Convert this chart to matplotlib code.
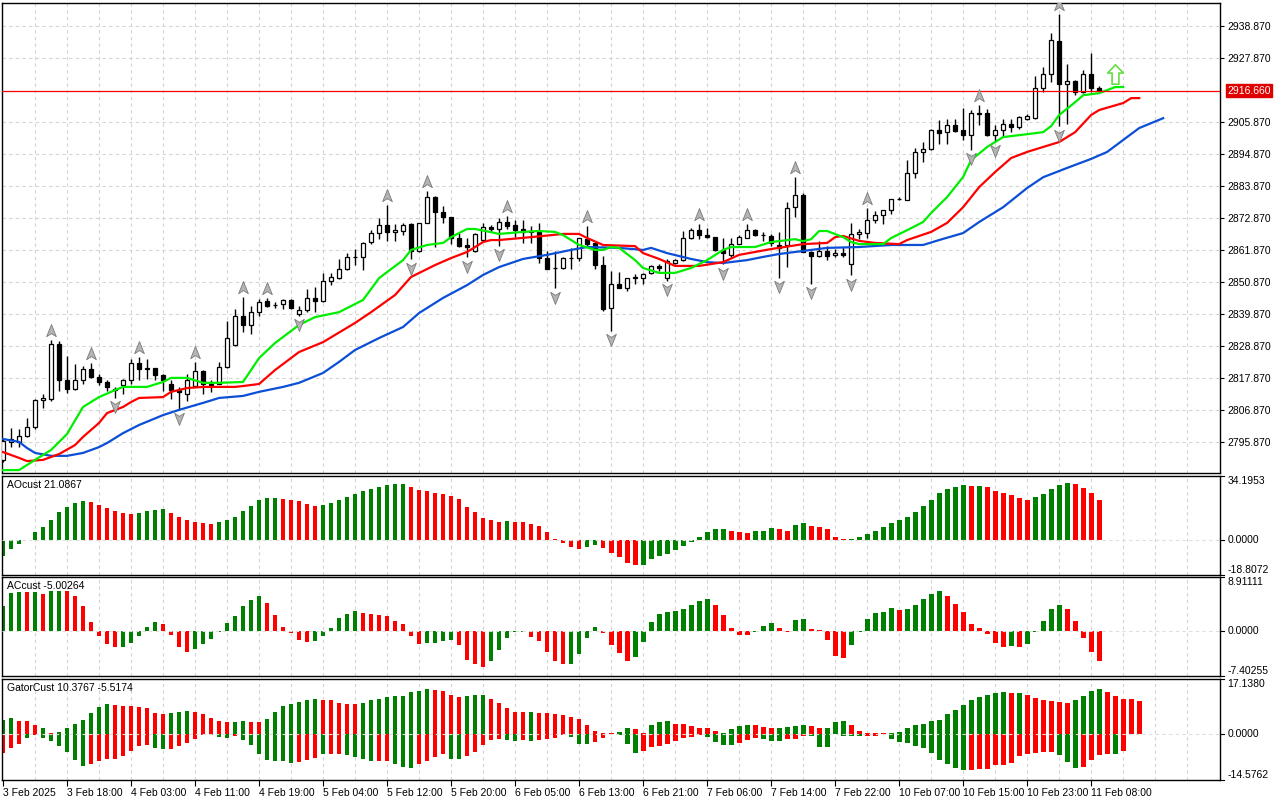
import numpy as np
import matplotlib
matplotlib.use("Agg")
import matplotlib.pyplot as plt
from matplotlib.path import Path
from matplotlib.transforms import offset_copy, blended_transform_factory

# ---- H1 candles (3 Feb 10:00 .. 11 Feb 09:00) ----
opens = [2789.6, 2796.0, 2795.9, 2797.9, 2801.0, 2810.2, 2810.8, 2829.7, 2817.3, 2814.2,
         2817.3, 2821.1, 2818.2, 2816.5, 2814.2, 2815.4, 2817.3, 2823.1, 2821.4, 2821.4,
         2819.0, 2815.7, 2813.6, 2812.5, 2815.0, 2820.3, 2815.9, 2815.9, 2821.6, 2829.1,
         2839.2, 2836.1, 2840.7, 2844.3, 2843.0, 2843.2, 2844.6, 2839.8, 2841.3, 2845.3,
         2844.5, 2851.2, 2852.4, 2855.3, 2859.3, 2859.3, 2864.5, 2867.6, 2870.5, 2868.0,
         2868.5, 2870.8, 2861.6, 2871.0, 2880.2, 2875.0, 2873.1, 2865.9, 2863.5, 2861.6,
         2865.3, 2869.7, 2869.2, 2871.6, 2870.5, 2869.0, 2868.0, 2868.2, 2859.0, 2855.8,
         2855.8, 2859.0, 2859.0, 2865.5, 2864.4, 2856.7, 2841.8, 2850.3, 2848.7, 2852.4,
         2852.4, 2854.1, 2856.4, 2852.2, 2857.5, 2858.4, 2865.9, 2868.6, 2867.0, 2866.3,
         2861.8, 2860.2, 2864.0, 2866.1, 2868.6, 2867.2, 2866.7, 2863.6, 2863.5, 2876.6,
         2880.7, 2861.2, 2859.7, 2861.5, 2860.0, 2860.8, 2856.9, 2867.5, 2867.8, 2872.1,
         2873.8, 2875.7, 2879.3, 2879.2, 2888.5, 2895.6, 2896.7, 2903.2, 2902.4, 2904.7,
         2903.0, 2901.3, 2909.1, 2909.1, 2901.3, 2903.2, 2905.1, 2904.2, 2906.9, 2907.4,
         2917.7, 2922.5, 2933.9, 2919.0, 2919.9, 2916.2, 2922.5, 2917.7]
highs = [2797.0, 2800.8, 2800.2, 2804.2, 2810.8, 2812.5, 2831.0, 2830.5, 2825.3, 2822.6,
         2821.9, 2823.1, 2819.4, 2817.1, 2814.8, 2817.6, 2824.5, 2825.0, 2824.5, 2821.4,
         2819.4, 2817.1, 2814.6, 2819.4, 2823.4, 2820.5, 2817.1, 2823.4, 2837.3, 2841.7,
         2845.6, 2842.6, 2844.9, 2845.3, 2843.9, 2844.9, 2845.1, 2842.6, 2848.5, 2849.0,
         2853.9, 2853.9, 2858.7, 2860.9, 2862.1, 2864.7, 2868.7, 2872.8, 2877.3, 2870.8,
         2871.0, 2871.0, 2871.0, 2882.3, 2880.5, 2877.0, 2873.3, 2867.6, 2865.9, 2867.6,
         2871.0, 2870.5, 2872.8, 2873.6, 2872.1, 2872.1, 2870.1, 2871.0, 2861.5, 2861.5,
         2859.5, 2862.7, 2866.1, 2870.1, 2864.7, 2859.8, 2854.7, 2854.4, 2852.4, 2853.5,
         2854.1, 2856.7, 2857.0, 2858.7, 2858.9, 2868.4, 2869.5, 2870.7, 2869.5, 2866.5,
         2866.1, 2866.1, 2867.0, 2870.7, 2869.0, 2868.2, 2867.3, 2868.0, 2878.4, 2886.9,
         2881.5, 2861.5, 2864.9, 2863.1, 2862.3, 2862.9, 2871.2, 2869.2, 2876.4, 2875.2,
         2875.5, 2879.5, 2880.1, 2892.7, 2896.9, 2899.0, 2903.6, 2906.4, 2907.0, 2907.0,
         2910.8, 2909.9, 2911.8, 2910.5, 2904.7, 2907.0, 2907.0, 2907.8, 2908.7, 2921.6,
         2924.8, 2936.5, 2943.1, 2925.9, 2920.4, 2923.6, 2929.6, 2918.1]
lows = [2789.0, 2794.2, 2794.2, 2797.6, 2800.2, 2807.6, 2809.9, 2813.4, 2812.7, 2813.6,
        2815.9, 2817.9, 2815.6, 2813.4, 2811.1, 2812.5, 2815.7, 2817.1, 2817.6, 2817.1,
        2813.4, 2810.8, 2807.0, 2810.0, 2814.8, 2812.5, 2813.0, 2815.7, 2821.4, 2828.8,
        2833.8, 2832.9, 2839.2, 2842.4, 2841.8, 2841.5, 2841.5, 2839.3, 2840.7, 2840.5,
        2844.1, 2849.8, 2851.8, 2855.0, 2856.7, 2855.0, 2863.9, 2865.5, 2865.0, 2865.1,
        2867.0, 2858.7, 2861.3, 2871.0, 2863.0, 2871.0, 2863.9, 2862.8, 2859.3, 2861.3,
        2865.1, 2868.2, 2863.2, 2869.0, 2866.5, 2864.4, 2864.4, 2857.5, 2855.2, 2848.7,
        2855.2, 2855.2, 2858.1, 2863.2, 2855.2, 2840.9, 2834.0, 2848.7, 2847.8, 2850.1,
        2850.1, 2853.5, 2854.7, 2851.2, 2857.0, 2858.1, 2865.5, 2865.5, 2865.9, 2861.5,
        2856.9, 2859.2, 2863.8, 2865.9, 2866.7, 2865.0, 2863.2, 2852.4, 2856.0, 2873.2,
        2861.2, 2850.3, 2859.5, 2858.5, 2859.5, 2859.5, 2853.2, 2865.8, 2866.1, 2871.2,
        2870.9, 2874.4, 2878.9, 2878.9, 2886.8, 2892.1, 2896.4, 2898.2, 2898.2, 2902.4,
        2899.8, 2896.4, 2904.7, 2901.0, 2899.0, 2900.7, 2902.4, 2903.6, 2906.7, 2907.0,
        2916.2, 2919.6, 2904.4, 2905.3, 2915.0, 2915.8, 2916.2, 2916.5]
closes = [2796.1, 2796.8, 2797.9, 2801.1, 2810.4, 2811.1, 2829.7, 2817.1, 2814.2, 2817.3,
          2821.1, 2818.2, 2816.5, 2814.6, 2813.6, 2817.3, 2823.1, 2821.1, 2820.9, 2819.0,
          2817.1, 2813.6, 2812.9, 2817.3, 2820.3, 2815.9, 2815.6, 2821.6, 2831.7, 2839.1,
          2836.1, 2840.4, 2844.1, 2842.6, 2842.8, 2844.6, 2841.8, 2841.3, 2845.3, 2844.5,
          2851.2, 2852.7, 2855.3, 2859.3, 2859.5, 2864.4, 2867.6, 2870.5, 2867.9, 2868.7,
          2870.5, 2861.6, 2871.0, 2880.2, 2875.0, 2873.1, 2865.9, 2863.2, 2862.8, 2867.3,
          2869.8, 2869.1, 2871.5, 2870.1, 2868.7, 2868.2, 2868.4, 2859.2, 2855.2, 2855.6,
          2859.0, 2859.2, 2865.9, 2863.8, 2856.7, 2841.5, 2850.3, 2848.7, 2852.1, 2852.6,
          2853.7, 2856.4, 2855.6, 2858.1, 2858.5, 2865.9, 2868.6, 2867.0, 2866.3, 2861.8,
          2861.0, 2864.0, 2866.3, 2868.6, 2867.0, 2867.0, 2864.4, 2862.7, 2876.4, 2880.7,
          2861.2, 2859.7, 2861.5, 2859.7, 2860.8, 2860.0, 2867.5, 2868.0, 2872.1, 2873.8,
          2875.5, 2879.3, 2879.5, 2888.5, 2895.6, 2896.7, 2903.2, 2902.2, 2904.7, 2902.8,
          2901.3, 2908.9, 2908.7, 2901.3, 2903.2, 2905.1, 2904.2, 2907.6, 2908.1, 2917.7,
          2922.5, 2934.2, 2919.0, 2919.9, 2916.2, 2922.5, 2917.7, 2916.66]

# ---- Alligator lines, read as (bar, price) points ----
lips_bars = [0, 2, 4, 6, 8, 10, 12, 14, 15, 18, 20, 21, 23, 25, 27, 30, 32, 34, 37, 39,
             42, 45, 47, 50, 51, 53, 55, 56, 58, 59, 61, 62, 65, 67, 69, 70, 72, 74, 75, 76,
             77, 79, 80, 82, 84, 86, 88, 90, 91, 94, 96, 99, 100, 101, 102, 103, 105, 106, 107, 110,
             111, 113, 115, 116, 118, 120, 121, 123, 125, 128, 130, 131, 132, 134, 135, 137, 139, 140]
lips_vals = [2786.2, 2786.2, 2789.7, 2793.1, 2798.6, 2807.9, 2811.3, 2813.7, 2814.8, 2814.8,
             2816.5, 2817.9, 2817.9, 2816.2, 2816.2, 2816.5, 2824.7, 2829.9, 2836.1, 2838.8,
             2840.5, 2844.7, 2852.2, 2858.4, 2861.9, 2863.6, 2864.3, 2866.3, 2869.1, 2869.1,
             2868.0, 2867.4, 2868.1, 2868.4, 2868.1, 2867.0, 2863.6, 2861.9, 2861.9, 2862.9,
             2862.6, 2858.4, 2855.7, 2854.0, 2854.0, 2855.7, 2858.4, 2861.9, 2862.9, 2862.9,
             2864.6, 2865.6, 2864.9, 2865.6, 2868.4, 2868.4, 2866.3, 2864.6, 2863.9, 2863.9,
             2866.0, 2868.7, 2871.5, 2874.6, 2880.1, 2887.0, 2892.8, 2897.3, 2900.7, 2901.7,
             2902.4, 2904.5, 2908.3, 2912.7, 2915.1, 2915.8, 2917.9, 2917.9]
teeth_bars = [0, 2, 3, 5, 7, 9, 10, 12, 13, 15, 16, 17, 20, 21, 23, 25, 29, 30, 32, 34,
              37, 40, 44, 46, 49, 51, 54, 56, 58, 60, 61, 62, 66, 70, 72, 73, 75, 79, 80, 82,
              84, 87, 90, 92, 94, 96, 100, 103, 104, 105, 107, 109, 112, 113, 116, 118, 120, 122, 124, 126,
              128, 130, 132, 134, 136, 137, 140, 141, 142]
teeth_vals = [2792.4, 2790.4, 2789.3, 2789.7, 2791.7, 2794.8, 2797.6, 2802.4, 2805.8, 2807.9,
              2809.6, 2811.0, 2811.3, 2813.1, 2814.4, 2814.8, 2814.8, 2815.1, 2815.8, 2820.6,
              2826.8, 2830.2, 2836.8, 2840.5, 2846.4, 2852.6, 2856.7, 2859.1, 2861.2, 2864.6,
              2865.3, 2865.3, 2866.3, 2867.4, 2867.4, 2866.0, 2863.6, 2863.2, 2860.8, 2858.8,
              2856.4, 2856.4, 2857.7, 2860.2, 2861.2, 2862.2, 2863.9, 2864.3, 2866.3, 2866.7,
              2865.0, 2864.3, 2863.9, 2865.3, 2868.1, 2871.2, 2876.6, 2883.5, 2888.7, 2893.5,
              2895.6, 2897.3, 2899.0, 2902.4, 2908.3, 2910.0, 2912.4, 2914.1, 2914.1]
jaw_bars = [0, 2, 3, 4, 6, 8, 10, 12, 13, 15, 17, 20, 22, 25, 27, 30, 32, 35, 37, 40,
            42, 44, 47, 50, 52, 55, 58, 60, 62, 65, 68, 71, 73, 77, 80, 81, 83, 86, 88, 90,
            93, 95, 97, 99, 103, 107, 111, 115, 117, 120, 122, 125, 128, 130, 133, 136, 138, 140, 142, 145]
jaw_vals = [2796.9, 2795.9, 2793.8, 2792.1, 2791.1, 2791.1, 2792.1, 2794.1, 2795.5, 2798.9,
            2801.7, 2805.1, 2806.9, 2809.3, 2811.0, 2811.7, 2813.1, 2814.8, 2816.2, 2819.6,
            2823.4, 2827.5, 2831.6, 2835.4, 2840.2, 2845.4, 2849.8, 2853.3, 2856.0, 2858.8,
            2860.2, 2861.9, 2862.9, 2862.6, 2861.9, 2862.6, 2860.8, 2858.8, 2857.7, 2857.4,
            2858.4, 2859.5, 2860.5, 2861.2, 2862.6, 2862.9, 2863.6, 2863.6, 2865.3, 2867.7,
            2871.5, 2876.6, 2883.2, 2886.9, 2890.1, 2893.2, 2895.6, 2899.7, 2903.8, 2907.2]

fractal_up = [6, 11, 17, 24, 30, 33, 48, 53, 63, 73, 87, 93, 99, 108, 122, 132]
fractal_down = [14, 22, 37, 51, 58, 62, 69, 76, 83, 90, 97, 101, 106, 121, 124, 132]
signal_bar, signal_price = 139, 2922.3
last_price = 2916.66

# ---- AO ----
ao_vals = [-8.6, -5.0, -2.2, -0.3, 4.0, 6.7, 10.5, 14.8, 17.7, 19.7, 20.7,
           20.2, 18.6, 17.1, 15.3, 14.2, 13.7,
           14.4, 15.5, 16.0, 16.6,
           14.2, 12.3, 10.6, 9.6, 8.8, 8.3,
           9.4, 10.5, 12.3, 15.5, 18.2, 21.5, 22.4, 22.6,
           22.0, 21.3, 20.6, 19.3, 18.2,
           18.6, 19.7, 21.3, 22.9, 24.7, 26.0, 27.2, 28.2, 29.3, 29.9, 30.1,
           28.3, 26.7, 26.1, 24.9, 24.5, 23.4, 21.8, 17.5, 14.8, 11.5, 10.5, 9.4,
           9.9,
           9.8, 9.4, 8.3, 7.2, 4.0, 0.5, -1.8, -4.0, -5.0,
           -4.0, -2.9,
           -4.5, -7.2, -9.4, -12.6, -13.7,
           -13.2, -10.5, -8.8, -7.8, -5.6, -3.4, -1.3, 1.3, 4.0, 5.6, 5.7,
           5.0, 4.0, 3.9,
           4.5, 5.0, 6.1,
           5.6, 5.0,
           7.7, 8.8,
           7.2, 7.1, 5.6, 1.8, 0.2,
           0.7, 1.8, 3.4, 5.0, 6.7, 8.8, 10.5, 12.1, 14.8, 18.0, 21.3, 25.1, 27.2, 28.3, 29.4,
           28.8,
           28.9,
           28.3, 26.1, 25.1, 24.0, 22.4, 21.3,
           22.9, 24.5, 27.2, 29.4, 30.5,
           29.9, 27.8, 25.1, 21.09]
ao_dirs = ("GGGGGGGGGGG" "RRRRRR" "GGGG" "RRRRRR" "GGGGGGGG" "RRRRR" "GGGGGGGGGGG"
           "RRRRRRRRRRRR" "G" "RRRRRRRRR" "GG" "RRRRR" "GGGGGGGGGGG" "RRR" "GGG" "RR" "GG"
           "RRRRR" "GGGGGGGGGGGGGGG" "R" "G" "RRRRRR" "GGGGG" "RRRR")

# ---- AC ----
ac_vals = [4.2, 6.3, 6.4, 6.4, 6.4, 6.1, 6.6, 6.6,
           6.6, 5.8, 4.1, 1.5, -0.8, -2.1, -2.7,
           -2.6, -1.9, -0.8, 0.7, 1.5,
           1.2, -0.6, -2.6, -3.4,
           -2.9, -2.1, -1.3, -0.1, 1.3, 2.5, 4.1, 5.1, 5.8,
           4.6, 2.6, 0.7, -0.3, -1.4, -1.8,
           -1.7, -0.8, 0.5, 2.1, 2.8, 3.3,
           3.0, 2.8, 2.6, 2.5, 1.6, 1.2, -0.8, -2.1,
           -2.0, -1.9, -1.6, -1.5,
           -2.3, -4.7, -5.5, -5.9,
           -4.9, -3.1, -1.1, -0.2, -0.1,
           -0.9, -1.6, -3.4, -4.9, -5.5,
           -5.4, -3.7, -1.1, 0.7,
           -0.3, -2.3, -3.6, -4.9,
           -4.2, -1.8, 1.5, 2.8, 3.1, 3.3, 3.6, 4.3, 4.9, 5.3,
           4.3, 2.6, 0.5, -0.6, -0.6,
           -0.1, 0.8, 1.3,
           0.5, -0.1,
           1.8, 2.0,
           0.3, 0.2, -1.4, -4.1, -4.4,
           -2.3, -0.1, 2.0, 3.0, 3.1, 3.8,
           3.5,
           3.6, 4.3, 5.3, 6.1, 6.6,
           5.8, 4.4, 3.1, 1.2, 0.5, -0.4, -1.9, -2.6,
           -2.4,
           -2.7,
           -2.1, -0.1, 1.6, 3.6, 4.3,
           3.6, 1.6, -1.1, -3.4, -5.0]
ac_dirs = ("GGG" "R" "G" "R" "GG" "RRRRRRR" "GGGGG" "RRRR" "GGGGGGGGG" "RRRRRR" "GGGGGG"
           "RRRRRRRR" "GGGG" "RRRR" "GGGGG" "RRRRR" "GGGG" "RRRR" "GGGGGGGGGG" "RRRRR" "GGG"
           "RR" "GG" "RRRRR" "GGGGGG" "R" "GGGGG" "RRRRRRRR" "G" "R" "GGGGG" "RRRRR")

# ---- Gator ----
gator_up = [4.4, 5.0, 3.8, 3.8, 2.8, 1.6, 0.3, 0.6, 1.9, 3.1,
            4.4, 6.6, 8.5, 9.4, 9.1, 8.8, 8.8, 8.5, 7.9, 6.6,
            6.3, 6.6, 6.9, 7.2, 6.9, 6.0, 5.0, 3.8, 3.5, 3.5,
            3.8, 3.5, 3.5, 4.7, 6.9, 8.8, 9.4, 10.0, 10.7, 11.0,
            10.7, 10.4, 9.7, 9.4, 9.4, 9.7, 10.4, 11.0,
            11.6, 11.9, 11.9, 12.9, 13.5, 14.1,
            13.8, 13.5, 12.2, 11.6,
            11.9, 12.2, 12.2,
            11.0, 9.7, 7.9, 6.9, 6.7,
            6.9,
            6.6, 6.5, 6.0, 5.9, 5.3, 4.7, 2.8, 0.9, 0.2, 0.1,
            0.6, 1.6,
            1.3, 0.3,
            2.8, 3.7, 3.8,
            3.1, 3.0, 2.5, 1.9, 1.6, 0.9,
            0.1, 1.3, 2.5, 2.8,
            2.7, 2.2, 1.6,
            1.7, 2.2, 2.5, 2.6,
            2.5, 1.6,
            1.9, 3.5, 4.1,
            2.8, 0.9, 0.1, 0.1, 0.05,
            0.1, 0.6, 1.6, 2.8, 3.1, 4.1, 4.4, 6.0, 7.5, 9.1, 10.7, 11.6, 12.2, 12.6, 12.9,
            12.6,
            12.7,
            12.2, 11.3, 10.4, 10.1, 10.0, 9.7,
            10.7, 11.9, 13.5, 14.1,
            13.2, 11.9, 11.0, 10.9, 10.38]
gator_up_dirs = ("GGRRRGRGGGGGGGRRRRRRRGGGRRRRRGGRRGGGGGGGRRRRRGGG"
                 "GGGGGG" "RRRR" "GGG" "RRRRR" "G" "RRRRRRRRRR" "GG" "RR" "GGG" "RRRRRR"
                 "GGGG" "RRR" "GGGG" "RR" "GGG" "RRRRR" "GGGGGGGGGGGGGGG" "R" "G" "RRRRRR"
                 "GGGG" "RRRRR")
gator_down = [-6.1, -4.6, -3.4, -1.5, -0.5, -1.5, -2.4, -4.0, -5.9, -8.4,
              -10.3, -9.6, -8.7, -8.1, -8.1, -7.1, -5.5, -4.0, -3.7, -4.6,
              -4.9, -4.9, -4.0, -3.0, -1.8, -0.5, -0.3, -1.0, -1.5, -0.8,
              -2.1, -3.7, -6.5, -8.4, -8.5, -8.7, -9.3, -9.0, -8.4, -7.7,
              -6.5, -6.5, -6.4, -6.8, -7.4, -8.1, -8.7, -8.7, -8.6, -9.6,
              -10.6, -10.9, -9.6, -8.7, -7.4, -6.5, -8.1, -8.1, -7.1, -5.9,
              -3.7, -2.1, -1.8, -2.1, -2.4, -2.1, -2.4, -2.1, -1.8, -1.5,
              -0.5, -1.2, -3.4, -3.4, -2.7, -1.5, -0.1, -0.5, -3.4, -6.2,
              -5.5, -4.3, -4.0, -3.4, -2.4, -1.5, -1.2, -0.5, -1.2, -2.7,
              -3.7, -3.7, -3.0, -2.1, -1.5, -1.8, -2.4, -2.4, -1.8, -1.8,
              -0.8, -0.8, -4.3, -4.3, -0.2, -0.8, -0.8, -0.8, -0.8, -0.8,
              -0.2, -1.8, -2.7, -3.0, -4.0, -4.6, -6.2, -8.4, -9.6, -10.9,
              -11.5, -11.5, -11.2, -11.2, -9.9, -9.9, -9.3, -7.1, -6.5, -6.2,
              -5.9, -5.9, -6.8, -9.0, -10.9, -10.6, -8.4, -6.8, -6.5, -6.5, -5.52]
gator_down_dirs = ("RRR" "G" "R" "GGGGGG" "RRRRRRRR" "GG" "RRRRR" "GGG" "R" "GGGGGGG" "RRR" "G"
                   "RR" "GGGG" "RR" "GGG" "RRRR" "GG" "RRRRR" "GG" "R" "G" "RRRR" "GGG" "RRR"
                   "GGG" "RRRRRRRR" "GGGG" "RRR" "GGG" "RRR" "GGG" "R" "GGG" "RRR" "GGGGGGGGGG"
                   "RRRRRRRRRRR" "GGG" "RRRR" "G" "R")

price_ticks = [2938.87, 2927.87, 2905.87, 2894.87, 2883.87, 2872.87, 2861.87,
               2850.87, 2839.87, 2828.87, 2817.87, 2806.87, 2795.87]
time_ticks = [0, 8, 16, 24, 32, 40, 48, 56, 64, 72, 80, 88, 96, 104, 112, 120, 128, 136]
time_labels = ["3 Feb 2025", "3 Feb 18:00", "4 Feb 03:00", "4 Feb 11:00", "4 Feb 19:00",
               "5 Feb 04:00", "5 Feb 12:00", "5 Feb 20:00", "6 Feb 05:00", "6 Feb 13:00",
               "6 Feb 21:00", "7 Feb 06:00", "7 Feb 14:00", "7 Feb 22:00", "10 Feb 07:00",
               "10 Feb 15:00", "10 Feb 23:00", "11 Feb 08:00"]

GREEN, RED = "#008000", "#ff0000"
GRID = "#d4d4d4"
FS = 7.5
plt.rcParams["font.family"] = ["Liberation Sans", "DejaVu Sans"]

fig = plt.figure(figsize=(12.8, 8), dpi=100)
L, W = 2 / 1280, 1218 / 1280
XLIM = (-0.125, 152.1)


def frame(ax):
    ax.set_xlim(*XLIM)
    for s in ax.spines.values():
        s.set_color("black")
        s.set_linewidth(1)
    ax.set_xticks([])
    for g in range(4, 152, 4):
        ax.axvline(g, color=GRID, lw=0.8, ls=(0, (3, 3)), zorder=0)


# ---- main chart ----
ax = fig.add_axes([L, 1 - 473 / 800, W, 470 / 800])
frame(ax)
ax.set_ylim(2785.2, 2946.8)
for p in price_ticks:
    ax.axhline(p, color=GRID, lw=0.8, ls=(0, (3, 3)), zorder=0)
ax.yaxis.tick_right()
ax.set_yticks(price_ticks)
ax.set_yticklabels([f"{p:.3f}" for p in price_ticks])
ax.tick_params(axis="y", labelsize=FS, length=3, pad=2)

x = np.arange(len(opens))
o, h, l, c = map(np.array, (opens, highs, lows, closes))
ax.vlines(x, l, h, color="black", lw=1, zorder=2)
bull = c >= o
ax.bar(x, np.maximum(np.abs(c - o), 0.12), 0.55, bottom=np.minimum(o, c),
       color=np.where(bull, "white", "black"), edgecolor="black", linewidth=0.9, zorder=3)

ax.plot(jaw_bars, jaw_vals, color="#0b4fd6", lw=1.6, zorder=4)
ax.plot(teeth_bars, teeth_vals, color="#ff0000", lw=1.6, zorder=4)
ax.plot(lips_bars, lips_vals, color="#00ee00", lw=1.6, zorder=4)

ax.axhline(last_price, color="red", lw=0.9, zorder=5)
tr = blended_transform_factory(ax.transAxes, ax.transData)
ax.text(1.006, last_price, f"{last_price:.3f}", transform=tr, fontsize=FS, color="white",
        va="center", ha="left", clip_on=False, zorder=6,
        bbox=dict(facecolor="#e00000", edgecolor="#e00000", pad=1.2))

arrow_up = Path([(0, 1), (0.7, -0.75), (0, -0.3), (-0.7, -0.75), (0, 1)],
                [Path.MOVETO, Path.LINETO, Path.LINETO, Path.LINETO, Path.CLOSEPOLY])
arrow_dn = Path([(0, -1), (0.7, 0.75), (0, 0.3), (-0.7, 0.75), (0, -1)],
                [Path.MOVETO, Path.LINETO, Path.LINETO, Path.LINETO, Path.CLOSEPOLY])
up_tr = offset_copy(ax.transData, fig=fig, y=6.5, units="points")
dn_tr = offset_copy(ax.transData, fig=fig, y=-6.0, units="points")
ax.plot(fractal_up, h[fractal_up], ls="none", marker=arrow_up, ms=10, mfc="#b4b4b4",
        mec="#7a7a7a", mew=0.6, transform=up_tr, zorder=6)
ax.plot(fractal_down, l[fractal_down], ls="none", marker=arrow_dn, ms=10, mfc="#b4b4b4",
        mec="#7a7a7a", mew=0.6, transform=dn_tr, zorder=6)

buy_arrow = Path([(0, 1), (0.8, 0.15), (0.35, 0.15), (0.35, -1), (-0.35, -1), (-0.35, 0.15),
                  (-0.8, 0.15), (0, 1)],
                 [Path.MOVETO] + [Path.LINETO] * 6 + [Path.CLOSEPOLY])
ax.plot([signal_bar], [signal_price], ls="none", marker=buy_arrow, ms=14, mfc="white",
        mec="#66dd44", mew=1.2, zorder=7)


# ---- sub windows ----
def sub_panel(top_px, height_px, lo, hi, labels, title):
    a = fig.add_axes([L, 1 - (top_px + height_px) / 800, W, height_px / 800])
    frame(a)
    a.set_ylim(lo, hi)
    a.set_yticks([])
    a.axhline(0, color="#dedede", lw=0.8, ls=(0, (3, 3)), zorder=4)
    t = blended_transform_factory(a.transAxes, a.transData)
    for val, txt, va in zip((hi, 0, lo), labels, ("top", "center", "bottom")):
        a.text(1.006, val, txt, transform=t, fontsize=FS, va=va, ha="left")
        a.plot([1.0, 1.003], [val, val], transform=t, color="black", lw=0.8, clip_on=False)
    a.text(0.004, 0.96, title, transform=a.transAxes, fontsize=FS, va="top", ha="left")
    return a


def hist(a, vals, dirs):
    cols = [GREEN if d == "G" else RED for d in dirs]
    a.bar(np.arange(len(vals)), vals, 0.6, color=cols, linewidth=0, zorder=2)


ax_ao = sub_panel(476, 99, -18.8072, 34.1953, ["34.1953", "0.0000", "-18.8072"], "AOcust 21.0867")
hist(ax_ao, ao_vals, ao_dirs)

ax_ac = sub_panel(577, 99, -7.40255, 8.91111, ["8.91111", "0.0000", "-7.40255"], "ACcust -5.00264")
hist(ax_ac, ac_vals, ac_dirs)

ax_g = sub_panel(679, 101, -14.5762, 17.1380, ["17.1380", "0.0000", "-14.5762"],
                 "GatorCust 10.3767 -5.5174")
hist(ax_g, gator_up, gator_up_dirs)
hist(ax_g, gator_down, gator_down_dirs)

ax_g.set_xticks(time_ticks)
ax_g.set_xticklabels(time_labels, ha="left")
ax_g.tick_params(axis="x", labelsize=FS, length=4, pad=1.5, direction="out")

fig.savefig("out.png", dpi=100, facecolor="white")
